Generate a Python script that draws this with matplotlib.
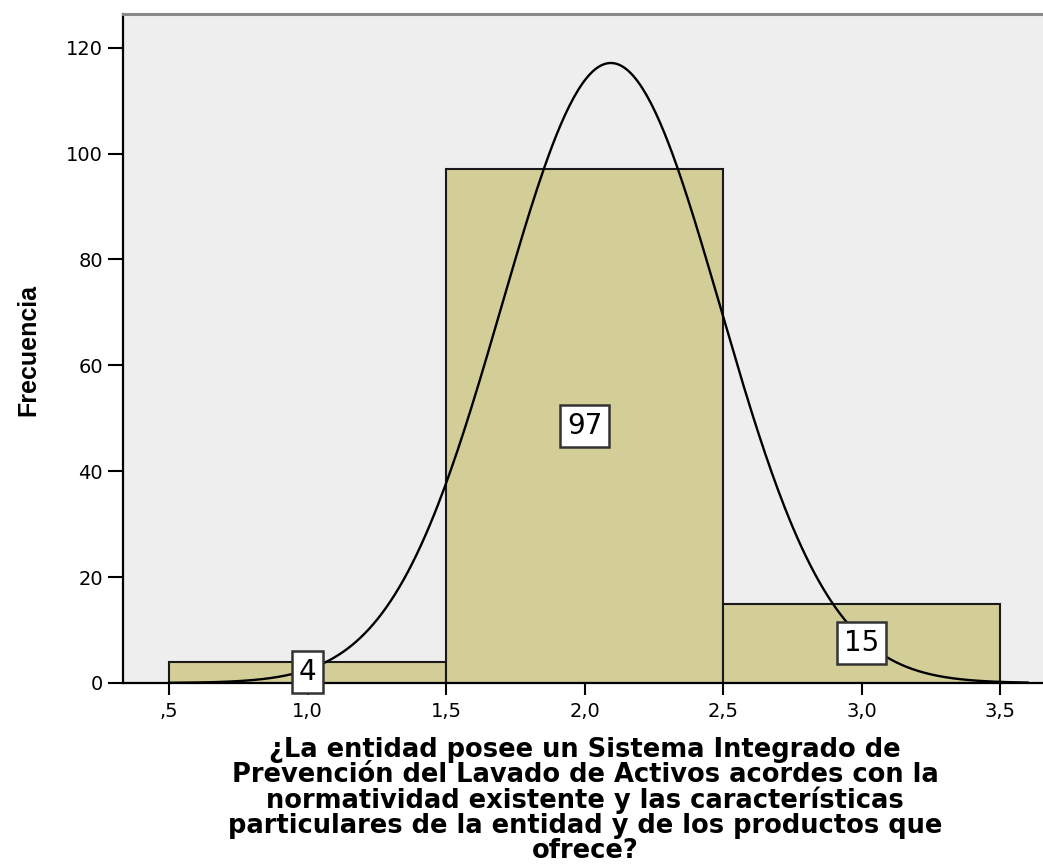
import numpy as np
import matplotlib
matplotlib.use('Agg')
import matplotlib.pyplot as plt

# histogram data (bin centres and counts)
centers = [1.0, 2.0, 3.0]
counts = [4, 97, 15]
bin_width = 1.0
xticks = [0.5, 1.0, 1.5, 2.0, 2.5, 3.0, 3.5]
xtick_labels = [',5', '1,0', '1,5', '2,0', '2,5', '3,0', '3,5']
yticks = [0, 20, 40, 60, 80, 100, 120]
ylabel = 'Frecuencia'
xlabel = ('¿La entidad posee un Sistema Integrado de\n'
          'Prevención del Lavado de Activos acordes con la\n'
          'normatividad existente y las características\n'
          'particulares de la entidad y de los productos que\n'
          'ofrece?')

fig = plt.figure(figsize=(10.43, 8.64), dpi=100)
ax = fig.add_axes([0.118, 0.2095, 0.882, 0.7745])
ax.set_facecolor('#eeeeee')

ax.bar(centers, counts, width=bin_width, color='#d3ce97', edgecolor='#1a1a1a', linewidth=1.5, zorder=2)

# normal curve fitted to the data
vals = np.repeat(centers, counts)
mu = vals.mean()
sd = vals.std(ddof=1)
xs = np.linspace(0.5, 3.6, 400)
ys = len(vals) * bin_width / (sd * np.sqrt(2 * np.pi)) * np.exp(-0.5 * ((xs - mu) / sd) ** 2)
ax.plot(xs, ys, color='black', lw=1.7, zorder=3)

for c, n in zip(centers, counts):
    ax.text(c, n / 2, str(n), ha='center', va='center', fontsize=20, zorder=4,
            bbox=dict(boxstyle='square,pad=0.25', fc='white', ec='#333333', lw=1.8))

ax.set_xlim(0.334, 3.655)
ax.set_ylim(0, 126.4)
ax.set_xticks(xticks)
ax.set_xticklabels(xtick_labels)
ax.set_yticks(yticks)
ax.tick_params(axis='both', direction='out', width=1.5, labelsize=14, colors='black')
ax.tick_params(axis='y', length=11, pad=3.5)
ax.tick_params(axis='x', length=8.6, pad=5)

for s in ['left', 'bottom']:
    ax.spines[s].set_linewidth(1.6)
    ax.spines[s].set_color('black')
ax.spines['top'].set_color('#8a8a8a')
ax.spines['top'].set_linewidth(2.2)
ax.spines['right'].set_visible(False)

ax.set_ylabel(ylabel, fontsize=18, fontweight='bold', va='baseline',
              family=['Liberation Sans', 'DejaVu Sans'])
ax.yaxis.set_label_coords(-0.0957, 0.498)
ax.set_xlabel(xlabel, fontsize=18.5, fontweight='bold', linespacing=0.95, va='top')
ax.xaxis.set_label_coords(0.502, -0.0807)

fig.savefig('out.png', dpi=100)
